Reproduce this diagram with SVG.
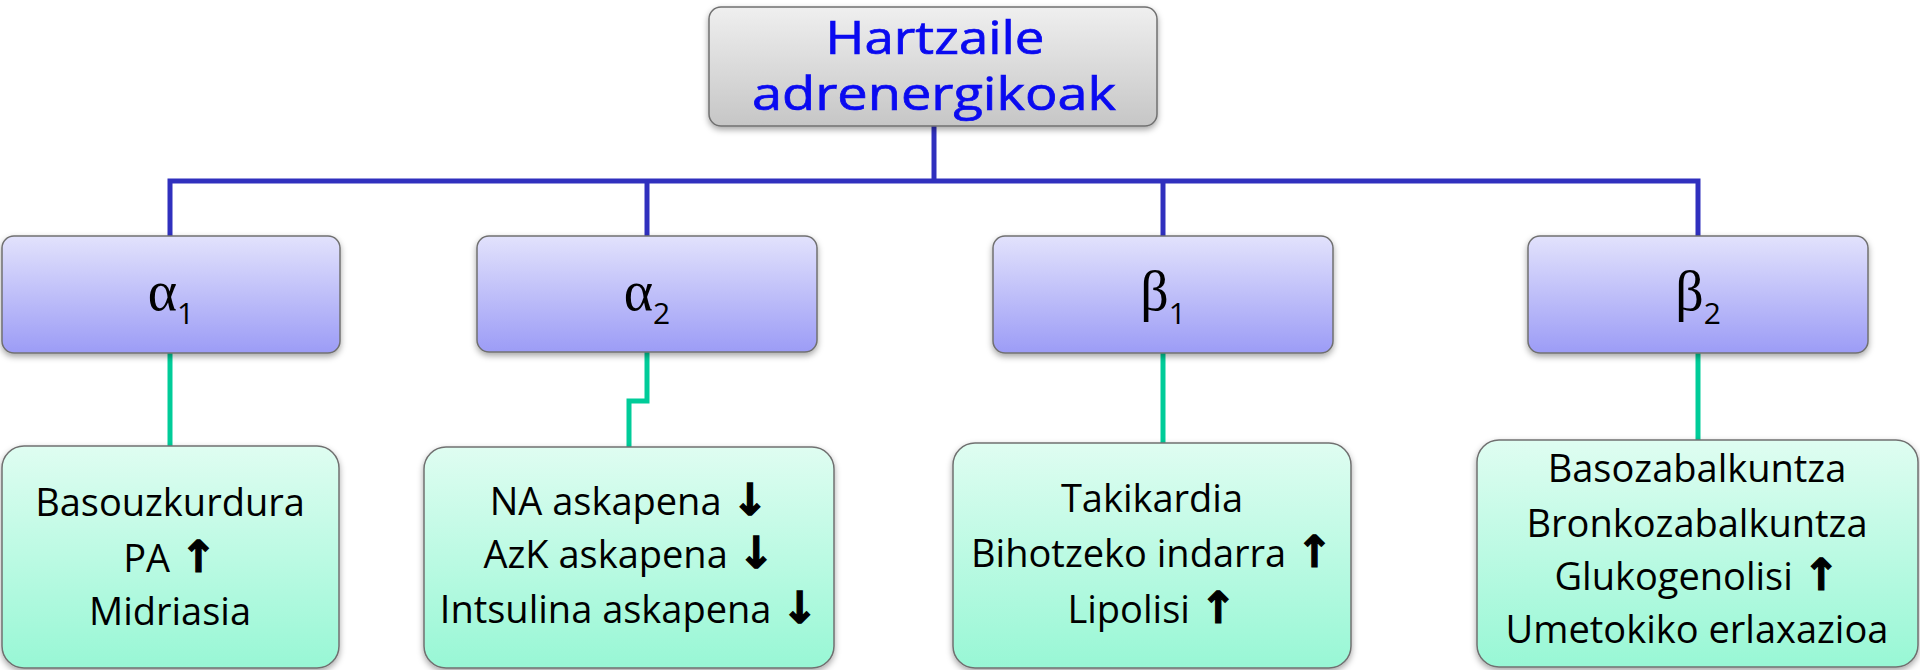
<svg xmlns="http://www.w3.org/2000/svg" width="1920" height="670" viewBox="0 0 1920 670">
<defs>
<linearGradient id="gTop" x1="0" y1="0" x2="0" y2="1"><stop offset="0" stop-color="#EFEFEF"/><stop offset="1" stop-color="#C6C6C6"/></linearGradient>
<linearGradient id="gPur" x1="0" y1="0" x2="0" y2="1"><stop offset="0" stop-color="#E2E2FC"/><stop offset="1" stop-color="#9C9CF6"/></linearGradient>
<linearGradient id="gGrn" x1="0" y1="0" x2="0" y2="1"><stop offset="0" stop-color="#DFFDF1"/><stop offset="1" stop-color="#98F7D5"/></linearGradient>
<filter id="sh" x="-10%" y="-10%" width="120%" height="130%"><feDropShadow dx="0" dy="3" stdDeviation="3" flood-color="#000" flood-opacity="0.35"/></filter>
<style>
.box{stroke:#707070;stroke-width:1.5;filter:url(#sh)}
.top{fill:url(#gTop)}
.pur{fill:url(#gPur)}
.grn{fill:url(#gGrn)}
.ttl{font-family:"Open Sans","Noto Sans",sans-serif;font-size:45px;fill:#0A0AF0;stroke:#0A0AF0;stroke-width:0.7;text-anchor:middle}
.gk{font-family:"Liberation Serif","DejaVu Serif",serif;font-size:56px;fill:#000}
.sub{font-family:"Open Sans","Noto Sans",sans-serif;font-size:30px;fill:#000}
.lbl{font-family:"Open Sans","Noto Sans",sans-serif;font-size:38px;font-weight:500;fill:#000;text-anchor:middle}
.arr{font-family:"DejaVu Sans",sans-serif;font-weight:bold;font-size:44px;stroke:#000;stroke-width:1.2}
.cb{fill:none;stroke:#3030BE;stroke-width:5}
.cg{fill:none;stroke:#00CC99;stroke-width:5}
</style>
</defs>
<g id="connectors">
<path class="cb" d="M934 126 V181"/>
<path class="cb" d="M170 236 V181 H1698 V236"/>
<path class="cb" d="M647 181 V236"/>
<path class="cb" d="M1163 181 V236"/>
<path class="cg" d="M170 353 V447"/>
<path class="cg" d="M647 352 V401 H629 V447"/>
<path class="cg" d="M1163 353 V443"/>
<path class="cg" d="M1698 353 V440"/>
</g>
<g id="root">
<rect class="box top" x="709" y="7" width="448" height="119" rx="12"/>
<text class="ttl" x="935" y="54" textLength="219" lengthAdjust="spacingAndGlyphs">Hartzaile</text>
<text class="ttl" x="934" y="110" textLength="364" lengthAdjust="spacingAndGlyphs">adrenergikoak</text>
</g>
<g id="alpha1">
<rect class="box pur" x="2" y="236" width="338" height="117" rx="12"/>
<text x="171" y="310" text-anchor="middle"><tspan class="gk">α</tspan><tspan class="sub" dy="14">1</tspan></text>
</g>
<g id="alpha2">
<rect class="box pur" x="477" y="236" width="340" height="116" rx="12"/>
<text x="647" y="310" text-anchor="middle"><tspan class="gk">α</tspan><tspan class="sub" dy="14">2</tspan></text>
</g>
<g id="beta1">
<rect class="box pur" x="993" y="236" width="340" height="117" rx="12"/>
<text x="1163" y="310" text-anchor="middle"><tspan class="gk">β</tspan><tspan class="sub" dy="14">1</tspan></text>
</g>
<g id="beta2">
<rect class="box pur" x="1528" y="236" width="340" height="117" rx="12"/>
<text x="1698" y="310" text-anchor="middle"><tspan class="gk">β</tspan><tspan class="sub" dy="14">2</tspan></text>
</g>
<g id="alpha1-effects">
<rect class="box grn" x="2" y="446" width="337" height="222" rx="22"/>
<text class="lbl" x="170" y="516">Basouzkurdura</text>
<text class="lbl" x="170" y="572">PA <tspan class="arr">↑</tspan></text>
<text class="lbl" x="170" y="625">Midriasia</text>
</g>
<g id="alpha2-effects">
<rect class="box grn" x="424" y="447" width="410" height="221" rx="22"/>
<text class="lbl" x="629" y="515">NA askapena <tspan class="arr">↓</tspan></text>
<text class="lbl" x="629" y="568">AzK askapena <tspan class="arr">↓</tspan></text>
<text class="lbl" x="629" y="623">Intsulina askapena <tspan class="arr">↓</tspan></text>
</g>
<g id="beta1-effects">
<rect class="box grn" x="953" y="443" width="398" height="225" rx="22"/>
<text class="lbl" x="1152" y="512">Takikardia</text>
<text class="lbl" x="1152" y="567">Bihotzeko indarra <tspan class="arr">↑</tspan></text>
<text class="lbl" x="1152" y="623">Lipolisi <tspan class="arr">↑</tspan></text>
</g>
<g id="beta2-effects">
<rect class="box grn" x="1477" y="440" width="441" height="227" rx="22"/>
<text class="lbl" x="1697" y="482">Basozabalkuntza</text>
<text class="lbl" x="1697" y="537">Bronkozabalkuntza</text>
<text class="lbl" x="1697" y="590">Glukogenolisi <tspan class="arr">↑</tspan></text>
<text class="lbl" x="1697" y="643">Umetokiko erlaxazioa</text>
</g>
</svg>
